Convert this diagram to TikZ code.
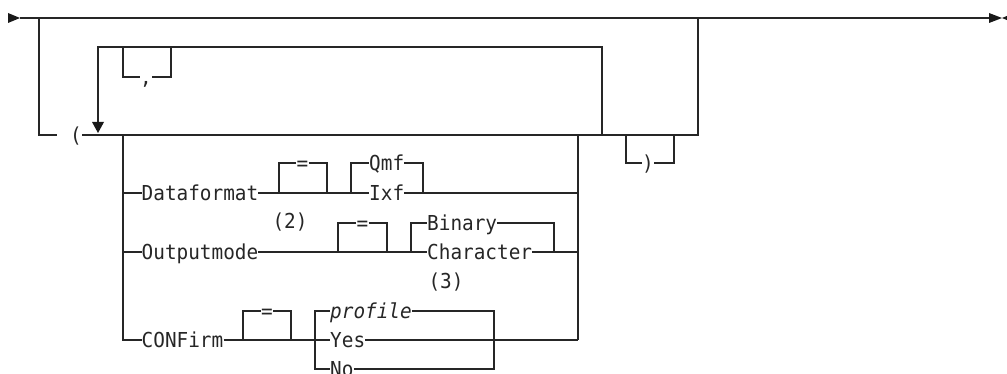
\documentclass[tikz,border=0pt]{standalone}
\usepackage{fontspec}
\newfontfamily\railfont{DejaVu Sans Mono}[FakeStretch=0.94]
\begin{document}
\begin{tikzpicture}[x=1pt,y=-1pt,
  rail/.style={line width=1.2pt,draw=black!85,line join=miter},
  kw/.style={font=\fontsize{20.6pt}{21pt}\selectfont\railfont,text=black!85,
    inner sep=0pt,text height=15pt,text depth=0pt,anchor=west},
  kwc/.style={kw,anchor=center},
  tip/.style={fill=black!90}]
\useasboundingbox (0,0) rectangle (1007,374);
\begin{scope}
\clip (0,0) rectangle (1007,374);
% text nodes
\node[kw] (lp) at (70,135) {(};
\node[kw] (comma) at (140,77) {,};
\node[kw] (rp) at (642,163) {)};
\node[kw] (df) at (141.5,193) {Dataformat};
\node[kwc] (eq1) at (302.5,163) {=};
\node[kw] (qmf) at (369,163) {Qmf};
\node[kw] (ixf) at (369,193) {Ixf};
\node[kwc] (n2) at (290,221.5) {(2)};
\node[kw] (om) at (141.5,252) {Outputmode};
\node[kwc] (eq2) at (362.5,223) {=};
\node[kw] (bin) at (427,223) {Binary};
\node[kw] (chr) at (427,252) {Character};
\node[kwc] (n3) at (446,281) {(3)};
\node[kw] (cf) at (141.5,340) {CONFirm};
\node[kwc] (eq3) at (267,311) {=};
\node[kw] (prof) at (330,311) {\itshape profile};
\node[kw] (yes) at (330,340) {Yes};
\node[kw] (no) at (330,369) {No};
% coordinates
\coordinate (start) at (20,18);
\coordinate (finish) at (990,18);
% main line and arrows
\fill[tip] (8,13) -- (20,18) -- (8,23) -- cycle;
\draw[rail] (start) -- (finish);
\draw[rail,line width=2.4pt] (703,18) -- (728,18);
\fill[tip] (989,13) -- (1002,18) -- (989,23) -- cycle;
\fill[tip] (1014,13) -- (1002,18) -- (1014,23) -- cycle;
% bypass of the whole group
\draw[rail] (39,18) -- (39,135) -- (57,135);
\draw[rail] (lp.east) -- (698,135) -- (698,18);
% repeat loop
\draw[rail] (602,135) -- (602,47) -- (98,47) -- (98,123);
\fill[tip] (92,122) -- (104,122) -- (98,133) -- cycle;
\draw[rail] (123,47) -- (123,77) -- (comma.west);
\draw[rail] (comma.east) -- (171,77) -- (171,47);
% close paren
\draw[rail] (626,135) -- (626,163) -- (rp.west);
\draw[rail] (rp.east) -- (674,163) -- (674,135);
% choice block
\draw[rail] (123,135) -- (123,340) -- (cf.west);
\draw[rail] (578,135) -- (578,340);
% Dataformat
\draw[rail] (123,193) -- (df.west);
\draw[rail] (df.east) -- (ixf.west);
\draw[rail] (279,193) -- (279,163) -- (eq1.west);
\draw[rail] (eq1.east) -- (327,163) -- (327,193);
\draw[rail] (351,193) -- (351,163) -- (qmf.west);
\draw[rail] (qmf.east) -- (423,163) -- (423,193);
\draw[rail] (ixf.east) -- (578,193);
% Outputmode
\draw[rail] (123,252) -- (om.west);
\draw[rail] (om.east) -- (chr.west);
\draw[rail] (338,252) -- (338,223) -- (eq2.west);
\draw[rail] (eq2.east) -- (387,223) -- (387,252);
\draw[rail] (411,252) -- (411,223) -- (bin.west);
\draw[rail] (bin.east) -- (554,223) -- (554,252);
\draw[rail] (chr.east) -- (578,252);
% CONFirm
\draw[rail] (cf.east) -- (yes.west);
\draw[rail] (243,340) -- (243,311) -- (eq3.west);
\draw[rail] (eq3.east) -- (291,311) -- (291,340);
\draw[rail] (315,340) -- (315,311) -- (prof.west);
\draw[rail] (315,340) -- (315,369) -- (no.west);
\draw[rail] (prof.east) -- (494,311) -- (494,369) -- (no.east);
\draw[rail] (yes.east) -- (578,340);
\end{scope}
\end{tikzpicture}
\end{document}
